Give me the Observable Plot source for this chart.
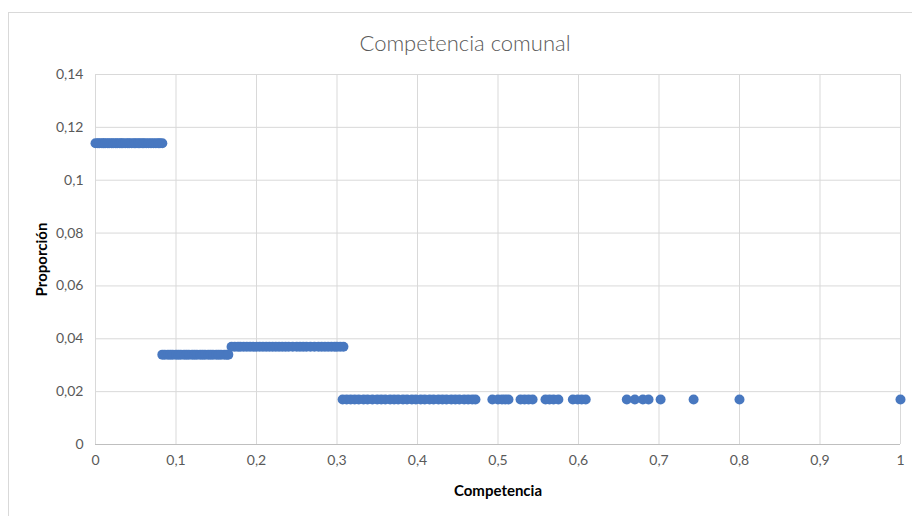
<!DOCTYPE html>
<html>
<head>
<meta charset="utf-8">
<script src="https://cdn.jsdelivr.net/npm/d3@7"></script>
<script src="https://cdn.jsdelivr.net/npm/@observablehq/plot@0.6"></script>
<style>
  html, body { margin: 0; padding: 0; background: #fff; }
  #wrap { position: relative; width: 912px; height: 516px; overflow: hidden; }
  #frame { position: absolute; left: 8px; top: 12px; width: 920px; height: 520px; border: 1px solid #d9d9d9; box-sizing: border-box; }
  #title { position: absolute; left: 0; width: 930px; top: 29px; text-align: center; font-family: Lato, sans-serif; font-weight: 300; font-size: 22px; color: #595959; }
  #chart { position: absolute; left: 0; top: 0; }
</style>
</head>
<body>
<div id="wrap">
  <div id="frame"></div>
  <div id="title"></div>
  <div id="chart"></div>
</div>
<script>
const title = "Competencia comunal";
const xLabel = "Competencia";
const yLabel = "Proporción";
const xTicks = [0, 0.1, 0.2, 0.3, 0.4, 0.5, 0.6, 0.7, 0.8, 0.9, 1];
const yTicks = [0, 0.02, 0.04, 0.06, 0.08, 0.1, 0.12, 0.14];

// Group values (proportion levels)
const levels = [0.114, 0.034, 0.037, 0.017];

const group1X = [0, 0.003, 0.005, 0.008, 0.01, 0.012, 0.015, 0.017, 0.02, 0.022, 0.025, 0.027, 0.03, 0.032, 0.034, 0.037, 0.04, 0.042, 0.045, 0.048, 0.05, 0.053, 0.055, 0.058, 0.06, 0.063, 0.066, 0.069, 0.072, 0.075, 0.078, 0.08, 0.083];
const group2X = [0.083, 0.086, 0.09, 0.093, 0.096, 0.1, 0.103, 0.106, 0.11, 0.113, 0.116, 0.12, 0.123, 0.126, 0.13, 0.133, 0.136, 0.14, 0.143, 0.146, 0.15, 0.153, 0.156, 0.16, 0.163, 0.165];
const group3X = [0.169, 0.173, 0.177, 0.18, 0.184, 0.188, 0.192, 0.196, 0.2, 0.204, 0.208, 0.212, 0.216, 0.22, 0.224, 0.228, 0.232, 0.236, 0.24, 0.245, 0.25, 0.254, 0.258, 0.262, 0.267, 0.272, 0.277, 0.281, 0.285, 0.289, 0.293, 0.297, 0.3, 0.304, 0.308];
const group4X = [0.307, 0.312, 0.317, 0.322, 0.327, 0.333, 0.338, 0.344, 0.35, 0.355, 0.36, 0.366, 0.371, 0.376, 0.382, 0.387, 0.393, 0.398, 0.404, 0.409, 0.415, 0.42, 0.426, 0.431, 0.436, 0.442, 0.447, 0.452, 0.458, 0.463, 0.468, 0.472, 0.493, 0.5, 0.505, 0.509, 0.513, 0.528, 0.533, 0.538, 0.543, 0.559, 0.564, 0.569, 0.575, 0.593, 0.599, 0.604, 0.609, 0.66, 0.67, 0.68, 0.687, 0.702, 0.743, 0.8, 1];

const groups = [group1X, group2X, group3X, group4X];
const data = groups.flatMap((xs, i) => xs.map(x => ({x, y: levels[i]})));

const fmt = d => String(+d.toFixed(2)).replace(".", ",");
const font = "Lato, 'Open Sans', sans-serif";

const chart = Plot.plot({
  width: 912,
  height: 516,
  marginLeft: 95,
  marginRight: 12,
  marginTop: 74,
  marginBottom: 72,
  style: { fontFamily: font, fontSize: "14px", color: "#595959", background: "transparent" },
  x: { domain: [0, 1] },
  y: { domain: [0, 0.14] },
  marks: [
    Plot.gridX(xTicks, { stroke: "#d9d9d9", strokeOpacity: 1 }),
    Plot.gridY(yTicks, { stroke: "#d9d9d9", strokeOpacity: 1 }),
    Plot.ruleY([0], { stroke: "#bfbfbf" }),
    Plot.axisX(xTicks, { tickSize: 0, tickPadding: 11, tickFormat: fmt, label: null, fill: "#595959", fontSize: 14 }),
    Plot.axisY(yTicks, { tickSize: 0, tickPadding: 12, tickFormat: fmt, label: null, fill: "#595959", fontSize: 14 }),
    Plot.dot(data, { x: "x", y: "y", r: 5, fill: "#4878c0", stroke: "none" }),
    Plot.text([xLabel], { frameAnchor: "bottom", lineAnchor: "middle", textAnchor: "middle", dy: 47, fontWeight: "bold", fill: "#000", fontSize: 15 }),
    Plot.text([yLabel], { frameAnchor: "left", textAnchor: "middle", lineAnchor: "middle", dx: -53, rotate: -90, fontWeight: "bold", fill: "#000", fontSize: 15 })
  ]
});
document.getElementById("chart").appendChild(chart);
document.getElementById("title").textContent = title;
</script>
</body>
</html>
